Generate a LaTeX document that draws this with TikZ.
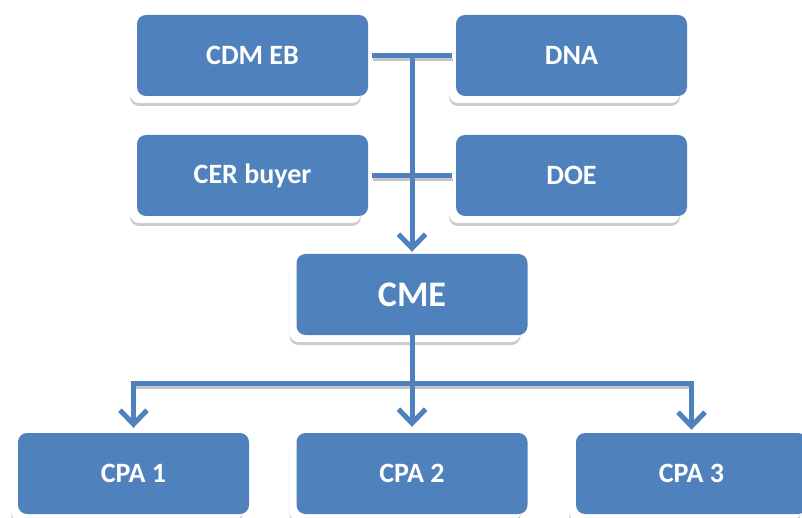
\documentclass[tikz,border=0pt]{standalone}
\usepackage{fontspec}
\setmainfont{Carlito}
\usetikzlibrary{arrows.meta}
\definecolor{boxblue}{HTML}{4F81BD}
\begin{document}
\begin{tikzpicture}[x=1pt,y=-1pt,
  box/.style={rounded corners=9pt, fill=boxblue, minimum width=231pt, minimum height=81pt,
    inner sep=0pt, text=white, font=\bfseries\fontsize{28}{30}\selectfont,
    preaction={fill=gray!40, rounded corners=9pt, transform canvas={xshift=-7pt,yshift=-10pt}},
    preaction={fill=white, rounded corners=9pt, transform canvas={xshift=-7pt,yshift=-7pt}}},
  bigbox/.style={box, font=\bfseries\fontsize{36}{38}\selectfont},
  conn/.style={draw=boxblue, line width=5pt},
  connshadow/.style={draw=gray!45, line width=3pt, transform canvas={xshift=1pt,yshift=-4pt}},
  arr/.style={-{Straight Barb[length=14pt,width=27pt,line width=5pt]}}
]
\useasboundingbox (0,0) rectangle (802,518);
\clip (0,0) rectangle (802,518);

\node[box] (cdm) at (252.5,55.5) {CDM EB};
\node[box] (dna) at (571.5,55.5) {DNA};
\node[box] (cer) at (252.5,175.5) {CER buyer};
\node[box] (doe) at (571.5,175.5) {DOE};
\node[bigbox] (cme) at (412,294.5) {CME};
\node[box] (cpa1) at (133.5,473.5) {CPA 1};
\node[box] (cpa2) at (412,473.5) {CPA 2};
\node[box] (cpa3) at (691.5,473.5) {CPA 3};

\coordinate (j1) at (412,55.5);
\coordinate (bus) at (412,383);
\coordinate (b1) at (133.5,383);
\coordinate (b3) at (691.5,383);

% shadows
\path[connshadow] ([xshift=4pt]cdm.east) -- ([xshift=-4pt]dna.west);
\path[connshadow] ([xshift=4pt]cer.east) -- ([xshift=-4pt]doe.west);
\path[connshadow] (b1) -- (b3);

% connectors
\path[conn] ([xshift=4pt]cdm.east) -- ([xshift=-4pt]dna.west);
\path[conn] ([xshift=4pt]cer.east) -- ([xshift=-4pt]doe.west);
\path[conn, arr, shorten >=2pt] (j1) -- (cme.north);
\path[conn] (cme.south) -- (bus);
\path[conn] ([xshift=-2.5pt]b1) -- ([xshift=2.5pt]b3);
\path[conn, arr, shorten >=5pt] (b1) -- (cpa1.north);
\path[conn, arr, shorten >=6pt] (bus) -- (cpa2.north);
\path[conn, arr, shorten >=3pt] (b3) -- (cpa3.north);
\end{tikzpicture}
\end{document}
